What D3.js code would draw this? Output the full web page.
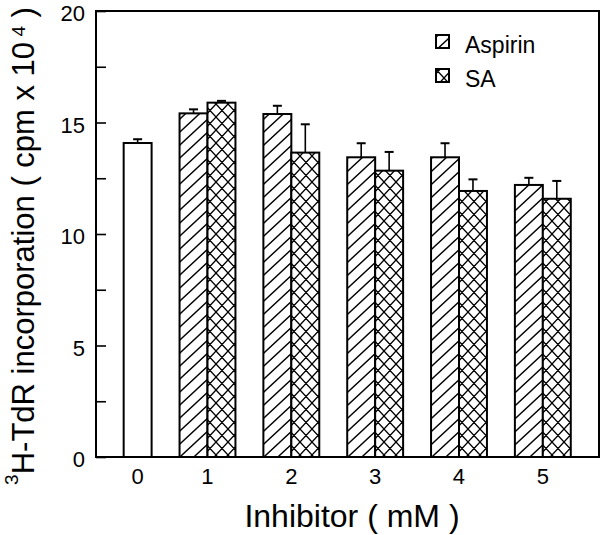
<!DOCTYPE html>
<html>
<head>
<meta charset="utf-8">
<script src="https://cdn.jsdelivr.net/npm/d3@7"></script>
<style>
  html, body { margin: 0; padding: 0; background: #fff; }
  text { font-family: "Liberation Sans", Arial, Helvetica, sans-serif; fill: #000; }
</style>
</head>
<body>
<svg id="chart" width="601" height="535"></svg>
<script>
// ---- data ----
const categories = [0, 1, 2, 3, 4, 5];          // Inhibitor (mM)
const controlValue = 14.08;                      // 0 mM
const controlErr = 0.17;
const doses = [1, 2, 3, 4, 5];
const aspirin = [15.41, 15.38, 13.44, 13.44, 12.20];
const aspirinErr = [0.18, 0.37, 0.63, 0.63, 0.32];
const sa = [15.89, 13.65, 12.84, 11.93, 11.58];
const saErr = [0.08, 1.27, 0.84, 0.52, 0.80];
const yMajorTicks = [0, 5, 10, 15, 20];
const yMinorTicks = [2.5, 7.5, 12.5, 17.5];
const seriesNames = ["Aspirin", "SA"];

// ---- layout ----
const svg = d3.select("#chart");
const L = 96, R = 599, T = 11, B = 457;
const barW = 1 / 3;

const x = d3.scaleLinear().domain([-0.33, 5.67]).range([L, R]);
const y = d3.scaleLinear().domain([0, 20]).range([B, T]);

// patterns
const defs = svg.append("defs");
const fwd = (w, h) => `M${-w},${h} L${w},${-h} M0,${h} L${w},0 M0,${2*h} L${2*w},0`;
const bwd = (w, h) => `M${-w},${-h} L${2*w},${2*h} M0,${-h} L${2*w},${h} M${-w},0 L${w},${2*h}`;

const aw = 14, ah = 13;
const pA = defs.append("pattern").attr("id", "hatch")
  .attr("patternUnits", "userSpaceOnUse").attr("width", aw).attr("height", ah);
pA.append("rect").attr("width", aw).attr("height", ah).attr("fill", "#fff");
pA.append("path").attr("d", fwd(aw, ah))
  .attr("stroke", "#000").attr("stroke-width", 1.4);

const cw = 12, ch = 13;
const pX = defs.append("pattern").attr("id", "cross")
  .attr("patternUnits", "userSpaceOnUse").attr("width", cw).attr("height", ch);
pX.append("rect").attr("width", cw).attr("height", ch).attr("fill", "#fff");
pX.append("path").attr("d", fwd(cw, ch) + " " + bwd(cw, ch))
  .attr("stroke", "#000").attr("stroke-width", 1.3);

// ---- bars ----
const g = svg.append("g");

function errorBar(cx, v, e) {
  g.append("line").attr("x1", cx).attr("x2", cx)
    .attr("y1", y(v)).attr("y2", y(v + e))
    .attr("stroke", "#000").attr("stroke-width", 1.6);
  g.append("line").attr("x1", cx - 4.5).attr("x2", cx + 4.5)
    .attr("y1", y(v + e)).attr("y2", y(v + e))
    .attr("stroke", "#000").attr("stroke-width", 2);
}

// control
errorBar(x(barW / 2), controlValue, controlErr);
g.append("rect")
  .attr("x", x(0)).attr("width", x(barW) - x(0))
  .attr("y", y(controlValue)).attr("height", y(0) - y(controlValue))
  .attr("fill", "#fff").attr("stroke", "#000").attr("stroke-width", 2);

doses.forEach((d, i) => {
  errorBar(x(d - barW / 2), aspirin[i], aspirinErr[i]);
  errorBar(x(d + barW / 2), sa[i], saErr[i]);
  g.append("rect")
    .attr("x", x(d - barW)).attr("width", x(d) - x(d - barW))
    .attr("y", y(aspirin[i])).attr("height", y(0) - y(aspirin[i]))
    .attr("fill", "url(#hatch)").attr("stroke", "#000").attr("stroke-width", 2);
  g.append("rect")
    .attr("x", x(d)).attr("width", x(d + barW) - x(d))
    .attr("y", y(sa[i])).attr("height", y(0) - y(sa[i]))
    .attr("fill", "url(#cross)").attr("stroke", "#000").attr("stroke-width", 2);
});

// ---- frame ----
svg.append("rect").attr("x", L).attr("y", T).attr("width", R - L).attr("height", B - T)
  .attr("fill", "none").attr("stroke", "#000").attr("stroke-width", 2);

// ---- y axis ----
const yAxis = d3.axisLeft(y).tickValues(yMajorTicks).tickSizeInner(-10).tickSizeOuter(0).tickPadding(11)
  .tickFormat(d3.format("d"));
const ya = svg.append("g").attr("transform", `translate(${L},0)`).call(yAxis);
ya.select(".domain").remove();
ya.selectAll(".tick line").attr("stroke-width", 1.6);
ya.selectAll(".tick text").attr("font-size", 22).attr("dy", "0.45em")
  .attr("font-family", "Liberation Sans, Arial, sans-serif");

const yMinor = d3.axisLeft(y).tickValues(yMinorTicks).tickSizeInner(-10).tickSizeOuter(0).tickFormat("");
const ym = svg.append("g").attr("transform", `translate(${L},0)`).call(yMinor);
ym.select(".domain").remove();
ym.selectAll(".tick line").attr("stroke-width", 1.6);

// ---- x labels ----
svg.append("g").selectAll("text").data(categories).join("text")
  .attr("x", d => d === 0 ? x(barW / 2) : x(d))
  .attr("y", 484)
  .attr("text-anchor", "middle")
  .attr("font-size", 22)
  .text(d => d);

// ---- titles ----
svg.append("text").attr("x", 352).attr("y", 527).attr("text-anchor", "middle")
  .attr("font-size", 32).text("Inhibitor ( mM )");

const yt = svg.append("text").attr("transform", "translate(34,246) rotate(-90)")
  .attr("text-anchor", "middle").attr("font-size", 31);
yt.append("tspan").attr("font-size", 19).attr("dy", -16).text("3");
yt.append("tspan").attr("dy", 16).text("H-TdR incorporation ( cpm x 10");
yt.append("tspan").attr("font-size", 19).attr("dy", -9).text(" 4");
yt.append("tspan").attr("dy", 9).text(" )");

// ---- legend ----
const leg = svg.append("g");
seriesNames.forEach((name, i) => {
  const yy = 35 + i * 34;
  leg.append("rect").attr("x", 436).attr("y", yy).attr("width", 13).attr("height", 13)
    .attr("fill", i === 0 ? "url(#hatch)" : "url(#cross)")
    .attr("stroke", "#000").attr("stroke-width", 2);
  leg.append("text").attr("x", 465).attr("y", yy + 18).attr("font-size", 23).text(name);
});
</script>
</body>
</html>
